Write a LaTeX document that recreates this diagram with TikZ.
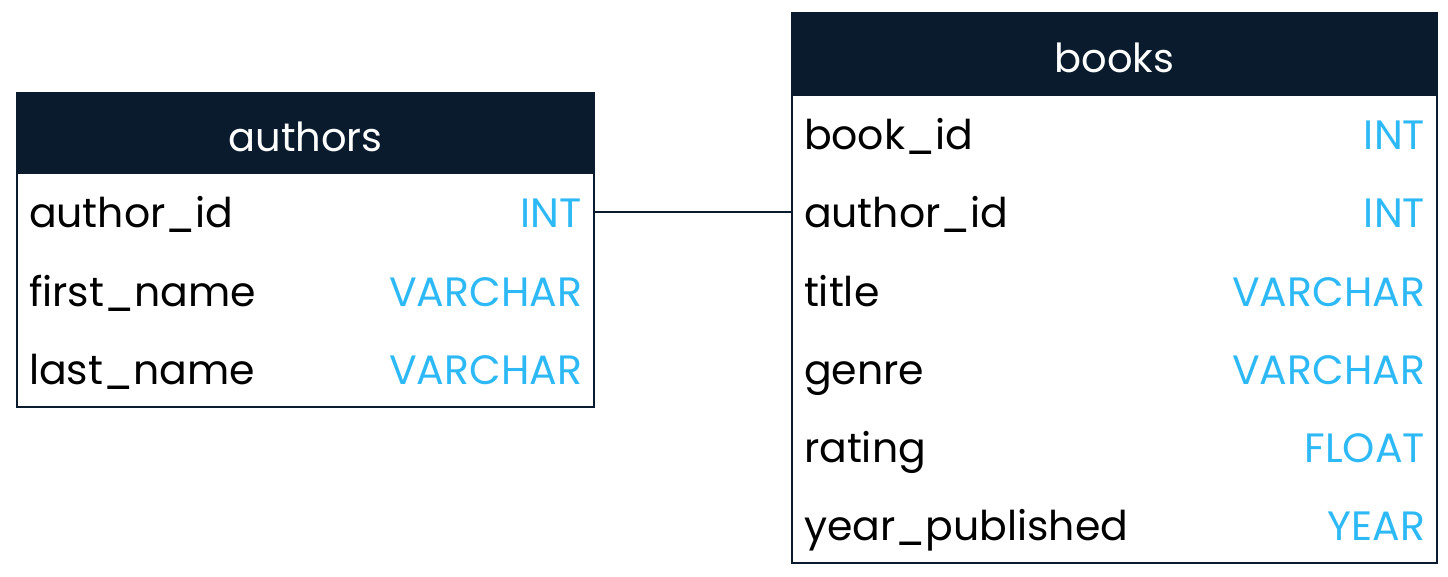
\documentclass[tikz,border=0pt]{standalone}
\usepackage{fontspec}
\setmainfont{Poppins}
\usepackage{tikz}
\usetikzlibrary{positioning}
\definecolor{navy}{HTML}{0A1B2D}
\definecolor{typeblue}{HTML}{2DB9F5}
\newcommand{\ty}[1]{\textcolor{typeblue}{#1}}

\begin{document}
\begin{tikzpicture}[x=1pt,y=-1pt,line width=2pt,node distance=0pt,every node/.style={outer sep=0pt}]
\tikzstyle{head}=[fill=navy,draw=navy,text=white,anchor=north west,minimum height=80pt,inner sep=0pt,text height=37pt,text depth=0pt,font=\fontsize{40}{48}\selectfont]
\tikzstyle{field}=[inner xsep=12pt,inner ysep=0pt,minimum height=78pt,text height=40pt,text depth=8pt,align=left,font=\fontsize{41}{49}\selectfont]
\useasboundingbox (0,0) rectangle (1448,577);

% authors table
\node[head,minimum width=577pt] (A) at (17,93) {authors};
\node[field,text width=553pt] (A1) [below=of A] {author\_id\hfill\ty{INT}};
\node[field,text width=553pt] (A2) [below=of A1] {first\_name\hfill\ty{VARCHAR}};
\node[field,text width=553pt] (A3) [below=of A2] {last\_name\hfill\ty{VARCHAR}};
\draw[navy] (A.north west) rectangle (A3.south east);

% books table
\node[head,minimum width=645pt,minimum height=82pt] (B) at (792,13) {books};
\node[field,text width=621pt] (B1) [below=of B] {book\_id\hfill\ty{INT}};
\node[field,text width=621pt] (B2) [below=of B1] {author\_id\hfill\ty{INT}};
\node[field,text width=621pt] (B3) [below=of B2] {title\hfill\ty{VARCHAR}};
\node[field,text width=621pt] (B4) [below=of B3] {genre\hfill\ty{VARCHAR}};
\node[field,text width=621pt] (B5) [below=of B4] {rating\hfill\ty{FLOAT}};
\node[field,text width=621pt] (B6) [below=of B5] {year\_published\hfill\ty{YEAR}};
\draw[navy] (B.north west) rectangle (B6.south east);

\draw[navy,line width=2.4pt] (A1.east) -- (B2.west);
\end{tikzpicture}
\end{document}
